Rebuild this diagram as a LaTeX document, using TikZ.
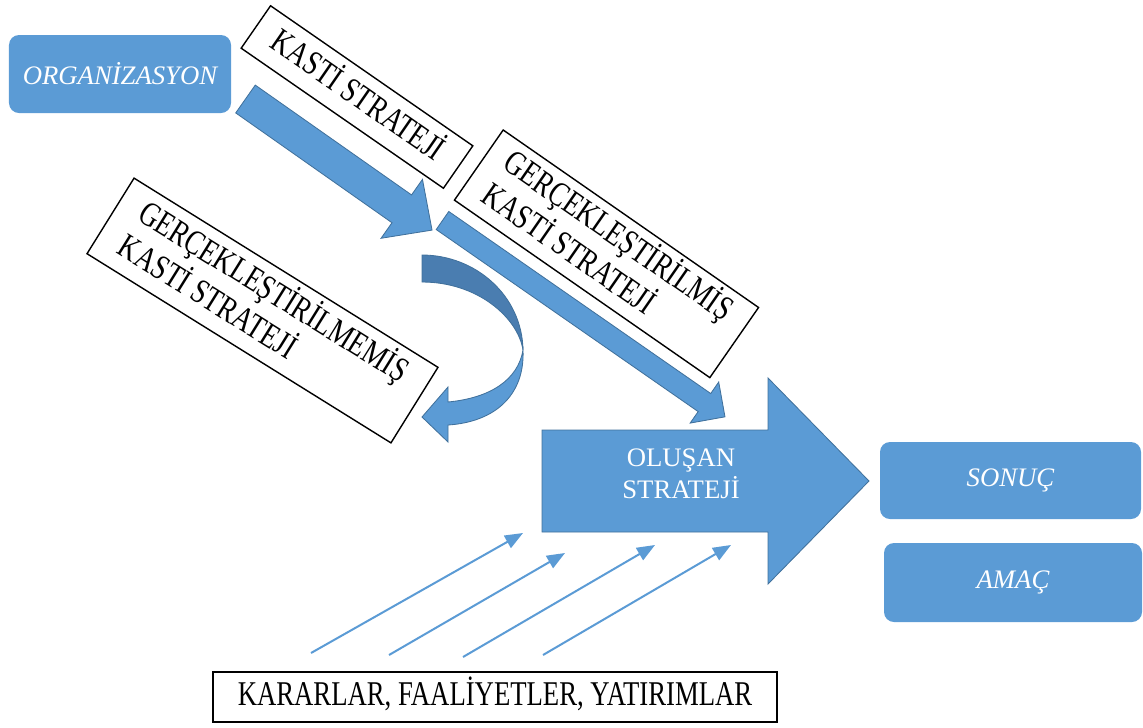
\documentclass[tikz,border=0pt]{standalone}
\usepackage{fontspec}
\usepackage{graphicx}
\setmainfont{Liberation Serif}
\usetikzlibrary{arrows.meta,positioning,calc}
\definecolor{officeblue}{HTML}{5B9BD5}
\definecolor{officeedge}{HTML}{41719C}
\definecolor{officedark}{HTML}{4A7DB0}
\newcommand{\diagfont}{\fontsize{19}{23}\selectfont}
% text that the original stretches upwards
\newcommand{\tall}[1]{\scalebox{1}[1.3]{\fontsize{19}{19.5}\selectfont\begin{tabular}{@{}l@{}}#1\end{tabular}}}
% straight block arrow: x, y (tail centre), angle, length, shaft half, head half, head length
\newcommand{\blockarrow}[7]{%
  \draw[blockarrow, shift={(#1,#2)}, rotate=#3]
    (0,-#5) -- ({#4-#7},-#5) -- ({#4-#7},-#6) -- (#4,0) -- ({#4-#7},#6) -- ({#4-#7},#5) -- (0,#5) -- cycle;}

\begin{document}
\begin{tikzpicture}[
    x=0.25mm, y=0.25mm,
    bluebox/.style={fill=officeblue, rounded corners=2.5mm, text=white, font=\diagfont\itshape},
    rotbox/.style={draw, line width=1pt, fill=white, font=\diagfont, inner sep=0pt},
    plainbox/.style={draw, line width=1pt, font=\diagfont, inner sep=0pt},
    blockarrow/.style={fill=officeblue, draw=officeedge, line width=0.6pt},
    thinarrow/.style={-{Triangle[length=4.5mm,width=3.5mm]}, draw=officeblue, line width=0.5mm}
]
\useasboundingbox (0,0) rectangle (1143,-727);

% Organisation and the deliberate strategy
\node[bluebox, minimum width=55.5mm, minimum height=19.5mm] (org) at (120,-74) {ORGANİZASYON};
\node[rotbox, rotate=-34.7, minimum width=61.5mm, minimum height=12.9mm] (kasti) at (357,-97) {\tall{KASTİ STRATEJİ}};
\blockarrow{245.5}{-99}{-35.1}{228}{17}{36}{37}

% Realised / unrealised
\node[rotbox, rotate=-34.8, minimum width=77.75mm, minimum height=21.35mm] (gercek) at (606.5,-253.8) {\tall{GERÇEKLEŞTİRİLMİŞ\\KASTİ STRATEJİ}};
\node[rotbox, rotate=-31.9, minimum width=89.5mm, minimum height=22.25mm] (gercekme) at (262.5,-310.5) {\tall{GERÇEKLEŞTİRİLMEMİŞ\\KASTİ STRATEJİ}};
\blockarrow{442.5}{-220.5}{-34.8}{344}{11}{25}{25}

% Curved arrow (back face darker)
\draw[blockarrow, fill=officedark] (422,-255) .. controls (475,-255) and (522,-295) .. (523,-350)
  .. controls (518,-318) and (478,-282) .. (422,-282) -- cycle;
\draw[blockarrow] (523,-350) .. controls (525,-395) and (495,-422) .. (448,-425) -- (448,-442)
  -- (422,-417) -- (448,-387) -- (448,-402) .. controls (490,-398) and (518,-380) .. (523,-350) -- cycle;

% Emergent strategy
\blockarrow{542}{-481}{0}{327}{51}{103}{101}
\node[text=white, font=\diagfont, align=center] (olusan) at (681,-474) {OLUŞAN\\STRATEJİ};

% Results
\node[bluebox, minimum width=65.25mm, minimum height=19.25mm] (sonuc) at (1010.5,-480.5) {SONUÇ};
\node[bluebox, minimum width=64.5mm, minimum height=19.75mm] (amac) at (1013,-582.5) {AMAÇ};

% Decisions feeding in
\node[plainbox, minimum width=141mm, minimum height=12.5mm] (karar) at (495,-697) {\tall{KARARLAR, FAALİYETLER, YATIRIMLAR}};
\coordinate (k1a) at (311,-653); \coordinate (k1b) at (523,-533);
\coordinate (k2a) at (389,-655); \coordinate (k2b) at (565,-553);
\coordinate (k3a) at (463,-657); \coordinate (k3b) at (655,-545);
\coordinate (k4a) at (543,-655); \coordinate (k4b) at (731,-545);
\foreach \i in {1,...,4}
  \draw[thinarrow] (k\i a) -- (k\i b);

\end{tikzpicture}
\end{document}
